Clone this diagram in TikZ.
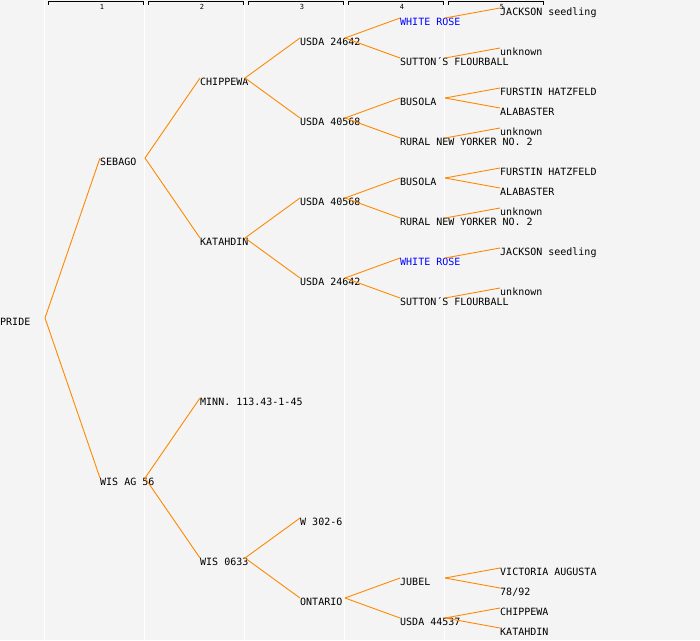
\documentclass[tikz,border=0pt]{standalone}
\usepackage{fontspec}
\setmonofont{DejaVu Sans Mono}
\definecolor{bgpaper}{RGB}{244,244,244}
\definecolor{edgeorange}{RGB}{255,136,0}
\definecolor{roseblue}{RGB}{0,0,255}

\begin{document}
\begin{tikzpicture}[x=1pt, y=-1pt,
        cultivar/.style={anchor=north west, inner sep=0pt, text height=7.5pt, text depth=2pt,
            font=\ttfamily\fontsize{10}{10}\selectfont},
        parentage/.style={draw=edgeorange, line width=0.9pt},
        genlabel/.style={inner sep=0pt, font=\ttfamily\fontsize{7}{7}\selectfont}]
        % Paper and generation columns
        \fill[bgpaper] (0,0) rectangle (700,640);
        \useasboundingbox (0,0) rectangle (700,640);
        \foreach \g in {0,...,4}
            \draw[white, line width=1.3pt] (44.5+100*\g,0) -- (44.5+100*\g,640);
        \foreach \g in {1,...,5} {
            \draw[line width=0.7pt] (100*\g-52,4.5) -- (100*\g-52,1.5) -- (100*\g+43,1.5) -- (100*\g+43,4.5);
            \node[genlabel] (gen\g) at (100*\g+2,7) {\g};
        }

        % Generation 0 and 1
        \node[cultivar] (pride) at (0,318) {PRIDE};
        \node[cultivar] (sebago) at (100,158) {SEBAGO};
        \node[cultivar] (wisag) at (100,478) {WIS AG 56};

        % Generation 2
        \node[cultivar] (chippewa) at (200,78) {CHIPPEWA};
        \node[cultivar] (katahdin) at (200,238) {KATAHDIN};
        \node[cultivar] (minn) at (200,398) {MINN. 113.43-1-45};
        \node[cultivar] (wisnull) at (200,558) {WIS 0633};

        % Generation 3
        \node[cultivar] (usdaA) at (300,38) {USDA 24642};
        \node[cultivar] (usdaB) at (300,118) {USDA 40568};
        \node[cultivar] (usdaC) at (300,198) {USDA 40568};
        \node[cultivar] (usdaD) at (300,278) {USDA 24642};
        \node[cultivar] (wthree) at (300,518) {W 302-6};
        \node[cultivar] (ontario) at (300,598) {ONTARIO};

        % Generation 4
        \node[cultivar, text=roseblue] (roseA) at (400,18) {WHITE ROSE};
        \node[cultivar] (suttonA) at (400,58) {SUTTON´S FLOURBALL};
        \node[cultivar] (busolaA) at (400,98) {BUSOLA};
        \node[cultivar] (ruralA) at (400,138) {RURAL NEW YORKER NO. 2};
        \node[cultivar] (busolaB) at (400,178) {BUSOLA};
        \node[cultivar] (ruralB) at (400,218) {RURAL NEW YORKER NO. 2};
        \node[cultivar, text=roseblue] (roseB) at (400,258) {WHITE ROSE};
        \node[cultivar] (suttonB) at (400,298) {SUTTON´S FLOURBALL};
        \node[cultivar] (jubel) at (400,578) {JUBEL};
        \node[cultivar] (usdaE) at (400,618) {USDA 44537};

        % Generation 5
        \node[cultivar] (jacksonA) at (500,8) {JACKSON seedling};
        \node[cultivar] (unknownA) at (500,48) {unknown};
        \node[cultivar] (furstinA) at (500,88) {FURSTIN HATZFELD};
        \node[cultivar] (alabasterA) at (500,108) {ALABASTER};
        \node[cultivar] (unknownB) at (500,128) {unknown};
        \node[cultivar] (furstinB) at (500,168) {FURSTIN HATZFELD};
        \node[cultivar] (alabasterB) at (500,188) {ALABASTER};
        \node[cultivar] (unknownC) at (500,208) {unknown};
        \node[cultivar] (jacksonB) at (500,248) {JACKSON seedling};
        \node[cultivar] (unknownD) at (500,288) {unknown};
        \node[cultivar] (victoria) at (500,568) {VICTORIA AUGUSTA};
        \node[cultivar] (seventyeight) at (500,588) {78/92};
        \node[cultivar] (chippewaB) at (500,608) {CHIPPEWA};
        \node[cultivar] (katahdinB) at (500,628) {KATAHDIN};

        % Parentage lines
        \draw[parentage] ([xshift=45pt]pride.north west) -- (sebago.north west);
        \draw[parentage] ([xshift=45pt]pride.north west) -- (wisag.north west);
        \draw[parentage] ([xshift=45pt]sebago.north west) -- (chippewa.north west);
        \draw[parentage] ([xshift=45pt]sebago.north west) -- (katahdin.north west);
        \draw[parentage] ([xshift=45pt]wisag.north west) -- (minn.north west);
        \draw[parentage] ([xshift=45pt]wisag.north west) -- (wisnull.north west);
        \draw[parentage] ([xshift=45pt]chippewa.north west) -- (usdaA.north west);
        \draw[parentage] ([xshift=45pt]chippewa.north west) -- (usdaB.north west);
        \draw[parentage] ([xshift=45pt]katahdin.north west) -- (usdaC.north west);
        \draw[parentage] ([xshift=45pt]katahdin.north west) -- (usdaD.north west);
        \draw[parentage] ([xshift=45pt]wisnull.north west) -- (wthree.north west);
        \draw[parentage] ([xshift=45pt]wisnull.north west) -- (ontario.north west);
        \draw[parentage] ([xshift=45pt]usdaA.north west) -- (roseA.north west);
        \draw[parentage] ([xshift=45pt]usdaA.north west) -- (suttonA.north west);
        \draw[parentage] ([xshift=45pt]usdaB.north west) -- (busolaA.north west);
        \draw[parentage] ([xshift=45pt]usdaB.north west) -- (ruralA.north west);
        \draw[parentage] ([xshift=45pt]usdaC.north west) -- (busolaB.north west);
        \draw[parentage] ([xshift=45pt]usdaC.north west) -- (ruralB.north west);
        \draw[parentage] ([xshift=45pt]usdaD.north west) -- (roseB.north west);
        \draw[parentage] ([xshift=45pt]usdaD.north west) -- (suttonB.north west);
        \draw[parentage] ([xshift=45pt]ontario.north west) -- (jubel.north west);
        \draw[parentage] ([xshift=45pt]ontario.north west) -- (usdaE.north west);
        \draw[parentage] ([xshift=45pt]roseA.north west) -- (jacksonA.north west);
        \draw[parentage] ([xshift=45pt]suttonA.north west) -- (unknownA.north west);
        \draw[parentage] ([xshift=45pt]busolaA.north west) -- (furstinA.north west);
        \draw[parentage] ([xshift=45pt]busolaA.north west) -- (alabasterA.north west);
        \draw[parentage] ([xshift=45pt]ruralA.north west) -- (unknownB.north west);
        \draw[parentage] ([xshift=45pt]busolaB.north west) -- (furstinB.north west);
        \draw[parentage] ([xshift=45pt]busolaB.north west) -- (alabasterB.north west);
        \draw[parentage] ([xshift=45pt]ruralB.north west) -- (unknownC.north west);
        \draw[parentage] ([xshift=45pt]roseB.north west) -- (jacksonB.north west);
        \draw[parentage] ([xshift=45pt]suttonB.north west) -- (unknownD.north west);
        \draw[parentage] ([xshift=45pt]jubel.north west) -- (victoria.north west);
        \draw[parentage] ([xshift=45pt]jubel.north west) -- (seventyeight.north west);
        \draw[parentage] ([xshift=45pt]usdaE.north west) -- (chippewaB.north west);
        \draw[parentage] ([xshift=45pt]usdaE.north west) -- (katahdinB.north west);
    \end{tikzpicture}
\end{document}
